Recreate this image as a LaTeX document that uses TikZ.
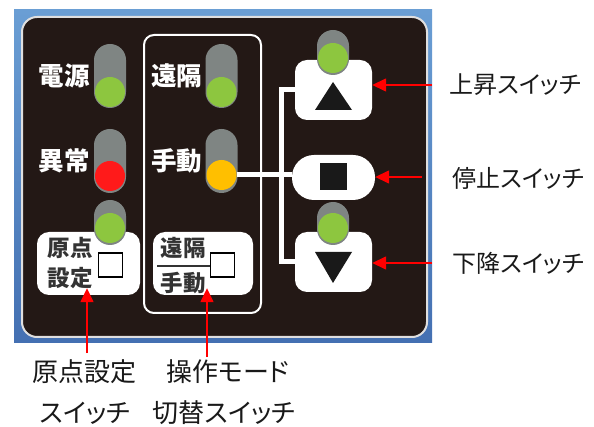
\documentclass[tikz,border=0pt]{standalone}
\usepackage{fontspec}
\newfontfamily\jp[RawFeature=+palt]{Noto Sans CJK JP}
\usetikzlibrary{arrows.meta,positioning}

\definecolor{panel}{HTML}{231815}
\definecolor{lampgray}{HTML}{7F8583}
\definecolor{ledgreen}{HTML}{8DC63F}
\definecolor{ledred}{HTML}{FF1A1A}
\definecolor{ledamber}{HTML}{FFBF00}
\definecolor{bluetop}{HTML}{6A9ED4}
\definecolor{bluebot}{HTML}{4470B2}

\begin{document}
\begin{tikzpicture}[x=1pt,y=-1pt,
  lamp/.style={fill=lampgray,rounded corners=16pt,minimum width=32pt,inner sep=0pt},
  led/.style={circle,fill=#1,minimum size=30pt,inner sep=0pt},
  swbox/.style={fill=white,rounded corners=12pt,inner sep=0pt},
  lbl/.style={text=white,inner sep=0pt,font=\jp\bfseries\fontsize{25.5}{25}\selectfont},
  boxtxt/.style={text=black!80,inner sep=0pt,align=center,font=\jp\bfseries\fontsize{22.5}{30}\selectfont},
  sqbox/.style={draw=black,fill=white,line width=1.5pt,minimum size=24pt,inner sep=0pt},
  note/.style={text=black!90,font=\jp\fontsize{24}{24}\selectfont},
  bignote/.style={note,font=\jp\fontsize{26}{26}\selectfont},
  pointer/.style={red,line width=1.5pt,-{Triangle[length=14pt,width=13pt]}},
  wire/.style={white,line width=5pt}]
  \useasboundingbox (0,0) rectangle (594,427);

  % case and front panel
  \shade[top color=bluetop,bottom color=bluebot] (14,10) rectangle (432,343);
  \draw[fill=panel,draw=gray!25,line width=2pt,rounded corners=15pt] (22,17) rectangle (427,337);
  \draw[white,line width=2pt,rounded corners=10pt] (144,35) rectangle (261,313);

  % left column
  \node[lamp,minimum height=64pt] (pwr) at (110,76) {};
  \node[led=ledgreen] (pwrled) at (110,92) {};
  \node[lbl,left=4pt of pwr] (pwrtxt) {電源};
  \node[lamp,minimum height=64pt] (err) at (110,161) {};
  \node[led=ledred] (errled) at (110,176) {};
  \node[lbl,left=4pt of err] (errtxt) {異常};

  \node[swbox,minimum width=103pt,minimum height=63pt] (homebox) at (88.5,263.5) {};
  \node[boxtxt] (hometxt) at (70,263) {原点\\設定};
  \node[sqbox] (homesq) at (110.5,265) {};
  \node[lamp,minimum height=45pt] (home) at (110,222.5) {};
  \node[led=ledgreen] (homeled) at (110,228) {};

  % middle column
  \node[lamp,minimum height=64pt] (rem) at (221.5,76) {};
  \node[led=ledgreen] (remled) at (221.5,92) {};
  \node[lbl,left=3pt of rem] (remtxt) {遠隔};
  \node[lamp,minimum height=64pt] (man) at (221.5,161) {};
  \node[led=ledamber] (manled) at (221.5,175) {};
  \node[lbl,left=3pt of man] (mantxt) {手動};

  \node[swbox,minimum width=100pt,minimum height=63pt] (modebox) at (203,263.5) {};
  \node[boxtxt] (modetop) at (183,248) {遠隔};
  \node[boxtxt] (modebot) at (183,283) {手動};
  \draw[black!80,line width=1.2pt] (157,266) -- (210,266);
  \node[sqbox] (modesq) at (222.5,265) {};

  % right column
  \node[swbox,minimum width=77pt,minimum height=60pt] (upsw) at (333.5,90) {};
  \fill[black!90] (333,82) -- (352,110) -- (315,110) -- cycle;
  \node[lamp,minimum height=45pt] (up) at (333,52.5) {};
  \node[led=ledgreen] (upled) at (333,58) {};

  \node[swbox,rounded corners=22pt,minimum width=83pt,minimum height=45pt] (stopsw) at (333.5,177.5) {};
  \node[fill=black!90,minimum size=27pt,inner sep=0pt] (stopsq) at (333.5,177) {};

  \node[swbox,minimum width=77pt,minimum height=60pt] (downsw) at (333.5,262) {};
  \fill[black!90] (315,252) -- (352,252) -- (333,283) -- cycle;
  \node[lamp,minimum height=43pt] (down) at (333,223.5) {};
  \node[led=ledgreen] (downled) at (333,228) {};

  % wiring
  \coordinate (jbot) at (281,262);
  \draw[wire] (upsw.west) -| (jbot) -- (downsw.west);
  \draw[wire] (manled.east) -- (manled.east -| stopsw.west);

  % callouts
  \node[note,anchor=west] (uplbl) at (446,85) {上昇スイッチ};
  \node[note,anchor=west] (stoplbl) at (449,178) {停止スイッチ};
  \node[note,anchor=west] (downlbl) at (449,263) {下降スイッチ};
  \coordinate (uptail) at (432,85);
  \coordinate (stoptail) at (422,177);
  \coordinate (downtail) at (432,263);
  \draw[pointer] (uptail) -- (uptail -| upsw.east);
  \draw[pointer] (stoptail) -- (stoptail -| stopsw.east);
  \draw[pointer] (downtail) -- (downtail -| downsw.east);

  \node[bignote] (homelbl) at (84,372) {原点設定};
  \node[bignote] (homelbl2) at (85,413) {スイッチ};
  \node[bignote] (modelbl) at (228,372) {操作モード};
  \node[bignote] (modelbl2) at (224,413) {切替スイッチ};
  \coordinate (hometail) at (87,353);
  \coordinate (modetail) at (207,357);
  \draw[pointer] (hometail) -- ([yshift=7pt]hometail |- homebox.south);
  \draw[pointer] (modetail) -- ([yshift=7pt]modetail |- modebox.south);
\end{tikzpicture}
\end{document}
